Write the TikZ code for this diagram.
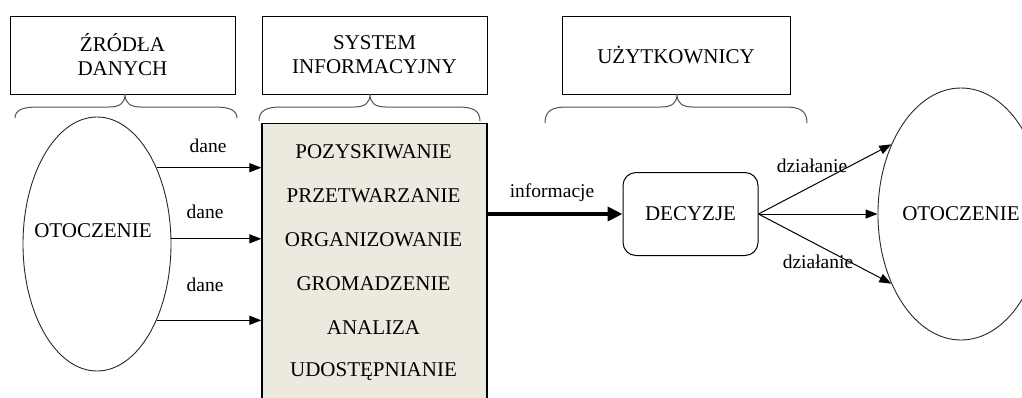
\documentclass[tikz,border=0pt]{standalone}
\usepackage{fontspec}
\setmainfont{Liberation Serif}
\usetikzlibrary{arrows.meta,shapes.geometric}
\definecolor{panel}{RGB}{236,233,223}
\definecolor{inkline}{RGB}{40,40,40}

% curly brace under a title box: left x, tip x, right x, y of the two ends
\newcommand{\groupbrace}[4]{%
  \draw[bracestyle] (#1,#4) .. controls (#1,110) and (#1+8,107) .. (#1+22,107)
    -- (#2-16,107) .. controls (#2-5,107) and (#2,103) .. (#2,94)
    .. controls (#2,103) and (#2+5,107) .. (#2+16,107)
    -- (#3-22,107) .. controls (#3-8,107) and (#3,110) .. (#3,#4);}

\begin{document}
\begin{tikzpicture}[x=1pt,y=-1pt,
  every node/.style={font=\fontsize{21}{24}\selectfont, inner sep=0pt},
  titlebox/.style={draw, line width=1pt, minimum height=78pt, align=center},
  bracestyle/.style={draw=inkline!80, line width=1pt},
  oval/.style={ellipse, draw=inkline, line width=0.9pt},
  flow/.style={line width=1pt, -{Triangle[length=12pt,width=9pt]}},
  bigflow/.style={line width=3.8pt, -{Triangle[length=15pt,width=14pt]}},
  tag/.style={font=\fontsize{19.5}{22}\selectfont}]
\useasboundingbox (0,0) rectangle (1022,397);
\clip (0,0) rectangle (1022,397);

% title boxes
\node[titlebox, minimum width=225pt] (src) at (122.5,55) {ŹRÓDŁA\\DANYCH};
\node[titlebox, minimum width=225pt] (sys) at (374.5,55) {SYSTEM\\INFORMACYJNY};
\node[titlebox, minimum width=228pt] (usr) at (676,55) {UŻYTKOWNICY};

% braces
\groupbrace{15}{125}{237}{118}
\groupbrace{259}{370}{480}{121}
\groupbrace{545}{677}{807}{123}

% left environment
\node[oval, minimum width=148pt, minimum height=254pt] (envL) at (97,244) {};
\node (envLtxt) at (93,231) {OTOCZENIE};

% information system panel
\node[draw, fill=panel, line width=1.2pt, minimum width=225pt, minimum height=300pt, anchor=north] (sysbox) at (374.5,123) {};
\foreach \t [count=\i] in {POZYSKIWANIE, PRZETWARZANIE, ORGANIZOWANIE, GROMADZENIE, ANALIZA, UDOSTĘPNIANIE}
  \node (op\i) at (373.5,{152+44*(\i-1)}) {\t};

% data inputs
\draw[flow] (envL.52.5) -- (envL.52.5 -| sysbox.west);
\draw[flow] (envL.4) -- (envL.4 -| sysbox.west);
\draw[flow] (envL.-52.5) -- (envL.-52.5 -| sysbox.west);
\node[tag] (d1) at (208,146) {dane};
\node[tag] (d2) at (205,212) {dane};
\node[tag] (d3) at (205,285) {dane};

% decisions
\node[draw, line width=1pt, rounded corners=13pt, minimum width=135pt, minimum height=83pt] (dec) at (690.5,214) {DECYZJE};
\draw[bigflow] (dec.west -| sysbox.east) -- (dec.west);
\node[tag] (info) at (552,193) {informacje};

% right environment
\node[oval, minimum width=146pt, minimum height=252pt] (envR) at (961,214) {OTOCZENIE};
\draw[flow] (dec.east) -- (envR.135);
\draw[flow] (dec.east) -- (envR.west);
\draw[flow] (dec.east) -- (envR.225);
\node[tag] (a1) at (812,166) {działanie};
\node[tag] (a2) at (818,262) {działanie};
\end{tikzpicture}
\end{document}
